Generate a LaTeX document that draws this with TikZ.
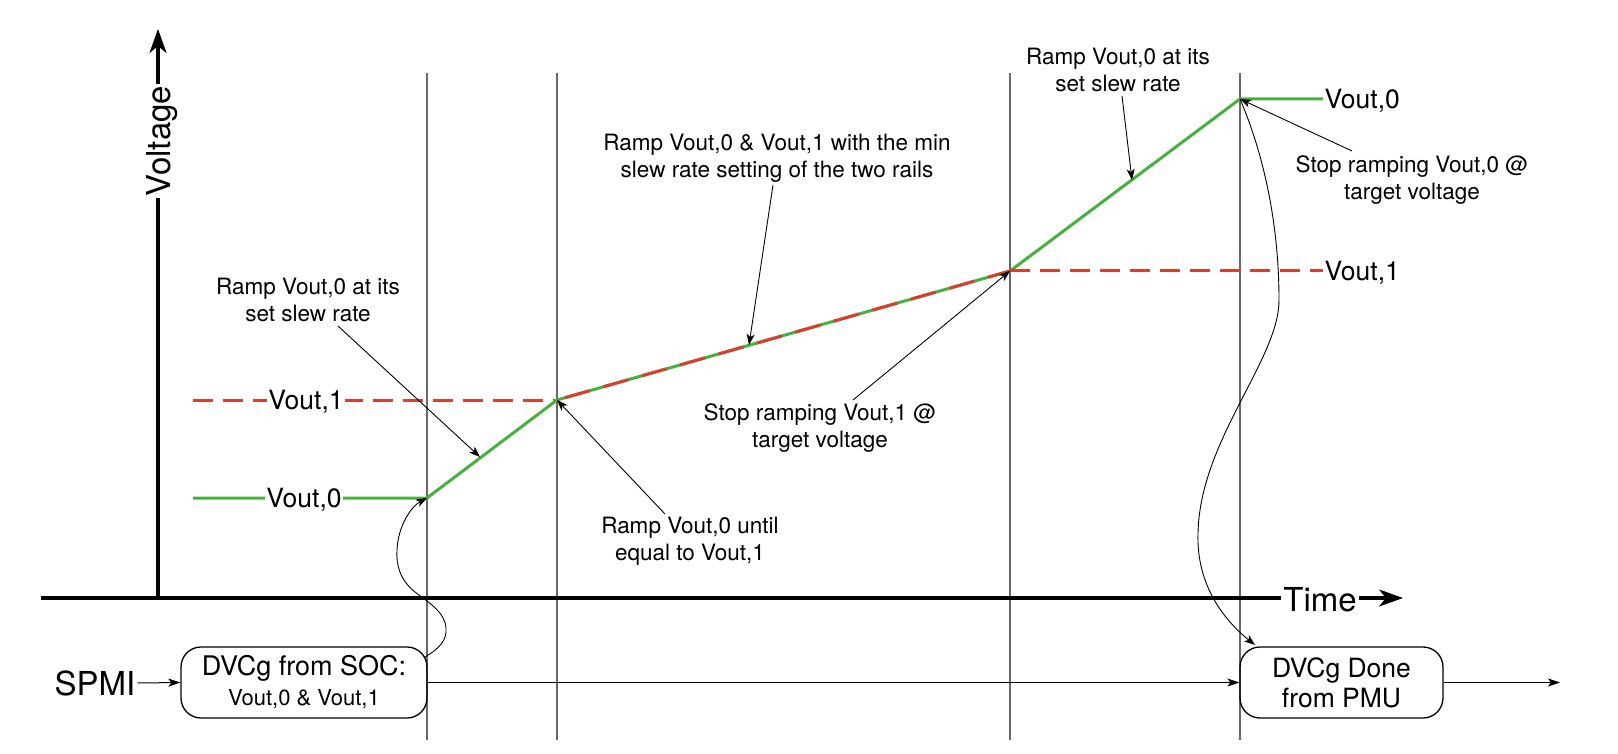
\documentclass[tikz,border=0pt]{standalone}
\usepackage{fontspec}
\setmainfont{TeX Gyre Heros}
\usetikzlibrary{arrows.meta}
\definecolor{rampgreen}{RGB}{72,176,62}
\definecolor{rampred}{RGB}{218,62,46}
\definecolor{gridgray}{RGB}{105,105,105}
\begin{document}
\begin{tikzpicture}[x=1pt,y=-1pt,
  gridline/.style={draw=gridgray,line width=1.4pt},
  axisline/.style={line width=3.2pt,-{Stealth[length=24pt,width=17pt,inset=7pt]}},
  green line/.style={draw=rampgreen,line width=3pt,line join=round},
  red dash/.style={draw=rampred,line width=3pt,dash pattern=on 20pt off 10pt},
  vlab/.style={font=\fontsize{26.5}{30}\selectfont,inner sep=1.5pt,fill=white,text depth=0pt},
  axlab/.style={font=\fontsize{33}{36}\selectfont,inner sep=2pt,fill=white,text depth=0pt},
  note/.style={font=\fontsize{22.5}{27}\selectfont,align=center,inner sep=0pt},
  notearrow/.style={line width=0.9pt,-{Stealth[length=11pt,width=8pt,inset=3pt]}},
  flowarrow/.style={line width=1pt,-{Stealth[length=12pt,width=8pt,inset=3pt]}},
  msgbox/.style={draw,line width=1.3pt,rounded corners=20pt,align=center,inner sep=0pt},
]
\useasboundingbox (0,0) rectangle (1618,754);

% key points
\coordinate (A) at (427,498);
\coordinate (B) at (557,400);
\coordinate (C) at (1010,271);
\coordinate (D) at (1240,99);

% vertical grid lines
\foreach \x/\n in {427/g1,557/g2,1010/g3,1240/g4}{
  \coordinate (\n t) at (\x,73);
  \coordinate (\n b) at (\x,740);
  \draw[gridline] (\n t) -- (\n b);
}

% axes
\coordinate (orig) at (158,598);
\coordinate (vtip) at (158,29);
\coordinate (tstart) at (41,598);
\coordinate (ttip) at (1403,598);
\draw[axisline] (orig) -- (vtip);
\draw[axisline] (tstart) -- (ttip);
\node[axlab,rotate=90] (vlab) at (158,141) {Voltage};
\node[axlab] (tlab) at (1320,599) {Time};

% voltage traces
\coordinate (v0start) at (193,498);
\coordinate (v1start) at (193,400);
\node[vlab,anchor=west] (v0r) at (1323,99) {Vout,0};
\node[vlab,anchor=west] (v1r) at (1323,271) {Vout,1};
\draw[red dash] (v1start) -- (B);
\draw[green line] (v0start) -- (A) -- (B) -- (C) -- (D) -- (v0r.west);
\draw[rampred,line width=3pt,dash pattern=on 26pt off 14pt,dash phase=-8pt] (B) -- (C);
\draw[red dash] (C) -- (v1r.west);
\node[vlab] (v0l) at (304,498) {Vout,0};
\node[vlab] (v1l) at (306,400) {Vout,1};

% annotations
\node[note] (n1) at (308,300) {Ramp Vout,0 at its\\set slew rate};
\node[note] (n2) at (777,158) {Ramp Vout,0 \& Vout,1 with the min\\slew rate setting of the two rails};
\node[note] (n3) at (820,428) {Stop ramping Vout,1 @\\target voltage};
\node[note] (n4) at (690,541) {Ramp Vout,0 until\\equal to Vout,1};
\node[note] (n5) at (1118,70) {Ramp Vout,0 at its\\set slew rate};
\node[note] (n6) at (1412,180) {Stop ramping Vout,0 @\\target voltage};

\coordinate (n1s) at (338,326); \coordinate (n1e) at (480,457);
\coordinate (n2s) at (773,185); \coordinate (n2e) at (749,345);
\coordinate (n3s) at (853,400);
\coordinate (n4s) at (665,514);
\coordinate (n5s) at (1122,96); \coordinate (n5e) at (1132,180);
\coordinate (n6s) at (1352,151);
\draw[notearrow] (n1s) -- (n1e);
\draw[notearrow] (n2s) -- (n2e);
\draw[notearrow] (n3s) -- (C);
\draw[notearrow] (n4s) -- (B);
\draw[notearrow] (n5s) -- (n5e);
\draw[notearrow] (n6s) -- (D);

% message boxes
\node[font=\fontsize{33}{36}\selectfont,inner sep=2pt] (spmi) at (95,683) {SPMI};
\node[msgbox,minimum width=246pt,minimum height=71pt,font=\fontsize{27}{30}\selectfont] (soc) at (304,682.5)
  {DVCg from SOC:\\{\fontsize{22}{30}\selectfont Vout,0 \& Vout,1}};
\node[msgbox,minimum width=203pt,minimum height=71pt,font=\fontsize{26.5}{30}\selectfont] (pmu) at (1341.5,682.5)
  {DVCg Done\\from PMU};
\coordinate (outend) at (1560,682.5);
\draw[flowarrow] (spmi.east) -- (soc.west);
\draw[flowarrow] (soc.east) -- (pmu.west);
\draw[flowarrow] (pmu.east) -- (outend);

% curved cause arrows
\coordinate (c1s) at (425,657);
\coordinate (c2e) at (1255,645);
\draw[notearrow] (c1s) .. controls (440,648) and (447,640) .. (446,628)
  .. controls (445,612) and (428,602) .. (415,592)
  .. controls (400,580) and (396,565) .. (397,550)
  .. controls (398,525) and (412,506) .. (A);
\draw[notearrow] (D) .. controls (1262,150) and (1279,220) .. (1279,300)
  .. controls (1279,360) and (1200,440) .. (1198,533)
  .. controls (1196,590) and (1230,625) .. (c2e);
\end{tikzpicture}
\end{document}
